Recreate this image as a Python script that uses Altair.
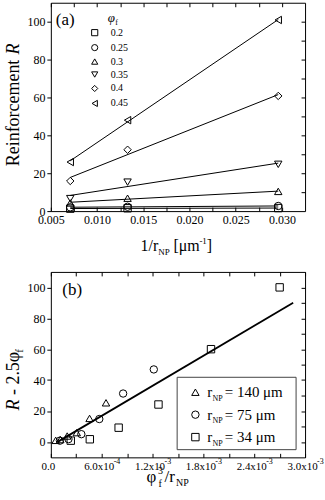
import altair as alt
import pandas as pd

FONT = "Liberation Serif"

# ---------------- Panel (a) data ----------------
inv_r = [0.0071, 0.0133, 0.0296]          # 1/r_NP [um^-1]
phi_labels = ["0.2", "0.25", "0.3", "0.35", "0.4", "0.45"]
phi_shapes = ["square", "circle", "triangle-up", "triangle-down", "diamond", "triangle-left"]
R_phi020 = [1.3, 1.5, 1.6]
R_phi025 = [2.0, 2.3, 2.7]
R_phi030 = [4.3, 6.8, 10.4]
R_phi035 = [6.6, 15.3, 24.7]
R_phi040 = [15.9, 32.4, 60.8]
R_phi045 = [25.9, 48.0, 100.9]

xa_major_labels = ["0.005", "0.010", "0.015", "0.020", "0.025", "0.030"]
ya_major = [0, 20, 40, 60, 80, 100]

# ---------------- Panel (b) data ----------------
r_labels = ["140", "75", "34"]
r_shapes = ["triangle-up", "circle", "square"]
x_r140 = [5.7e-5, 1.12e-4, 1.93e-4, 3.06e-4, 4.57e-4, 6.51e-4]
y_r140 = [1.0, 1.5, 3.8, 6.0, 15.2, 25.3]
x_r75 = [1.07e-4, 2.08e-4, 3.6e-4, 5.72e-4, 8.53e-4, 1.215e-3]
y_r75 = [0.8, 1.8, 5.0, 14.8, 31.3, 46.9]
x_r34 = [2.35e-4, 4.6e-4, 8.0e-4, 1.27e-3, 1.89e-3, 2.70e-3]
y_r34 = [0.8, 1.7, 9.2, 24.2, 60.0, 100.0]
fit_x = [0.00008, 0.00286]
fit_y = [0.0, 90.0]

xb_major_labels = ["0.0", "6.0x10", "1.2x10", "1.8x10", "2.4x10", "3.0x10"]
xb_exp_values = [0.0006, 0.0012, 0.0018, 0.0024, 0.0030]
xb_exponents = ["-4", "-3", "-3", "-3", "-3"]
yb_major = [0, 20, 40, 60, 80, 100]

W, HA, HB = 255, 209, 186

# ---------------- helpers ----------------
def txt(s, x, y, size, style="normal", angle=0, align="left", baseline="alphabetic"):
    return alt.Chart(pd.DataFrame({"t": [s]})).mark_text(
        font=FONT, fontSize=size, fontStyle=style, angle=angle,
        align=align, baseline=baseline, color="black"
    ).encode(x=alt.value(x), y=alt.value(y), text="t:N")


def sym(shape, x, y, size=55):
    return alt.Chart(pd.DataFrame({"t": [0]})).mark_point(
        shape=shape, size=size, filled=False, color="black", strokeWidth=1, opacity=1
    ).encode(x=alt.value(x), y=alt.value(y))


def pin():
    # invisible anchor fixing the outer extent (left margin 50 px, top 1 px)
    return alt.Chart(pd.DataFrame({"t": [0]})).mark_rect(opacity=0).encode(
        x=alt.value(-50), x2=alt.value(-49), y=alt.value(-1), y2=alt.value(0))


# ---------------- Panel (a) ----------------
rows = []
for lab, vals in zip(phi_labels, [R_phi020, R_phi025, R_phi030, R_phi035, R_phi040, R_phi045]):
    for xv, yv in zip(inv_r, vals):
        rows.append({"x": xv, "R": yv, "phi": lab})
df_a = pd.DataFrame(rows)

xa_scale = alt.Scale(domain=[0.005, 0.0325], nice=False, zero=False)
ya_scale = alt.Scale(domain=[0, 110], nice=False, zero=False)
xa_ticks = [round(0.005 + 0.0025 * i, 4) for i in range(11)]
ya_ticks = list(range(10, 110, 10))

lab_arr_a = "[" + ",".join(
    "'" + (xa_major_labels[i // 2] if i % 2 == 0 else "") + "'" for i in range(11)
) + "]"

pts_a = alt.Chart(df_a).mark_point(filled=False, color="black", size=55, strokeWidth=1, opacity=1).encode(
    x=alt.X("x:Q", scale=xa_scale, axis=alt.Axis(
        orient="bottom", values=xa_ticks, tickSize=4, offset=-4, labelPadding=3,
        labelOverlap=False, labelFlush=False,
        labelExpr=lab_arr_a + "[round((datum.value-0.005)/0.0025)]", title=None)),
    y=alt.Y("R:Q", scale=ya_scale, axis=alt.Axis(
        orient="left", values=ya_major, tickSize=4, labelPadding=2, title=None)),
    shape=alt.Shape("phi:N", scale=alt.Scale(domain=phi_labels, range=phi_shapes),
                    legend=alt.Legend(orient="none", legendX=39, legendY=25, title=None,
                                      labelFont=FONT, labelFontSize=10, labelColor="black",
                                      symbolSize=38, symbolStrokeColor="black",
                                      symbolStrokeWidth=1, symbolFillColor="transparent",
                                      labelOffset=11, rowPadding=3, padding=0)),
)

lines_a = alt.Chart(df_a).transform_regression("x", "R", groupby=["phi"]).mark_line(
    color="black", strokeWidth=1).encode(
    x=alt.X("x:Q", scale=xa_scale, axis=alt.Axis(
        orient="top", values=xa_ticks, labels=False, tickSize=4, offset=-4, title=None)),
    y=alt.Y("R:Q", scale=ya_scale, axis=alt.Axis(
        orient="right", values=ya_ticks, labels=False, tickSize=4, offset=-4, title=None)),
    detail="phi:N",
)

texts_a = [
    txt("(a)", 5, 22, 17),
    txt("φ", 57, 19, 13, style="italic"),
    txt("f", 64.5, 22, 8),
    # x title: 1/r_NP [um^-1]
    txt("1/r", 90, 249, 16),
    txt("NP", 107.8, 253, 9),
    txt("[μm", 123, 249, 16),
    txt("-1", 149, 242, 9),
    txt("]", 156.5, 249, 16),
    # y title: Reinforcement R
    txt("Reinforcement", -32, 164, 18, angle=270),
    txt("R", -32, 52, 18, style="italic", angle=270),
]

panel_a = alt.layer(pin(), lines_a, pts_a, *texts_a).resolve_axis(
    x="independent", y="independent").properties(width=W, height=HA)

# ---------------- Panel (b) ----------------
rows = []
for lab, xs, ys in zip(r_labels, [x_r140, x_r75, x_r34], [y_r140, y_r75, y_r34]):
    for xv, yv in zip(xs, ys):
        rows.append({"x": xv, "y": yv, "r": lab})
df_b = pd.DataFrame(rows)
df_fit = pd.DataFrame({"x": fit_x, "y": fit_y})
df_exp = pd.DataFrame({"v": xb_exp_values, "e": xb_exponents})

xb_scale = alt.Scale(domain=[0, 0.003], nice=False, zero=False)
yb_scale = alt.Scale(domain=[-10, 110], nice=False, zero=False)
xb_ticks = [round(0.0003 * i, 5) for i in range(11)]
yb_ticks = list(range(0, 110, 10))
lab_arr_b = "[" + ",".join(
    "'" + (xb_major_labels[i // 2] if i % 2 == 0 else "") + "'" for i in range(11)
) + "]"

pts_b = alt.Chart(df_b).mark_point(filled=False, color="black", size=55, strokeWidth=1, opacity=1).encode(
    x=alt.X("x:Q", scale=xb_scale, axis=alt.Axis(
        orient="bottom", values=xb_ticks, tickSize=4, offset=-4, labelPadding=3,
        labelOverlap=False, labelFlush=False, labelFontSize=11, labelOffset=-3,
        labelExpr=lab_arr_b + "[round(datum.value/0.0003)]", title=None)),
    y=alt.Y("y:Q", scale=yb_scale, axis=alt.Axis(
        orient="left", values=yb_major, tickSize=4, labelPadding=2, title=None)),
    shape=alt.Shape("r:N", scale=alt.Scale(domain=r_labels, range=r_shapes), legend=None),
)

exp_b = alt.Chart(df_exp).mark_text(
    font=FONT, fontSize=8, align="left", baseline="alphabetic", dx=12, color="black").encode(
    x=alt.X("v:Q", scale=xb_scale, axis=None), y=alt.value(HB + 7), text="e:N")

line_b = alt.Chart(df_fit).mark_line(color="black", strokeWidth=1.8).encode(
    x=alt.X("x:Q", scale=xb_scale, axis=alt.Axis(
        orient="top", values=xb_ticks, labels=False, tickSize=4, offset=-4, title=None)),
    y=alt.Y("y:Q", scale=yb_scale, axis=alt.Axis(
        orient="right", values=yb_ticks, labels=False, tickSize=4, offset=-4, title=None)),
)

legend_box = alt.Chart(pd.DataFrame({"t": [0]})).mark_rect(
    fill="white", stroke="#444444", strokeWidth=1).encode(
    x=alt.value(126.7), x2=alt.value(246), y=alt.value(105.7), y2=alt.value(178.3))

legend_b = [legend_box]
for i, (lab, shp) in enumerate(zip(r_labels, r_shapes)):
    yc = 120.7 + 22.5 * i
    legend_b += [
        sym(shp, 145, yc),
        txt("r", 157, yc + 5, 15),
        txt("NP", 162.2, yc + 8.5, 8),
        txt("= " + lab + " μm", 174.5, yc + 5, 15),
    ]

texts_b = [
    txt("(b)", 11.5, 23, 17),
    # x title: phi_f^3 / r_NP
    txt("φ", 96, 211, 17),
    txt("3", 107.5, 203, 10),
    txt("f", 108, 216, 10),
    txt("/r", 114, 211, 17),
    txt("NP", 125.5, 215, 10),
    # y title: R - 2.5 phi_f
    txt("R", -32, 139, 18, style="italic", angle=270),
    txt("- 2.5", -32, 123.5, 18, angle=270),
    txt("φ", -32, 90.5, 18, angle=270),
    txt("f", -28, 81, 11, angle=270),
]

panel_b = alt.layer(pin(), line_b, pts_b, exp_b, *legend_b, *texts_b).resolve_axis(
    x="independent", y="independent").properties(width=W, height=HB)

chart = alt.vconcat(panel_a, panel_b, spacing=61, bounds="flush",
                    padding={"left": 0, "top": 0, "right": 0, "bottom": 0}).resolve_scale(
    shape="independent", x="independent", y="independent"
).configure_view(stroke="black", strokeWidth=1).configure_axis(
    domain=False, grid=False, labelFont=FONT, labelFontSize=12, labelColor="black",
    tickColor="black", tickWidth=1, titleFont=FONT
)

chart.save("out.html", embed_options={"renderer": "svg", "actions": False})
